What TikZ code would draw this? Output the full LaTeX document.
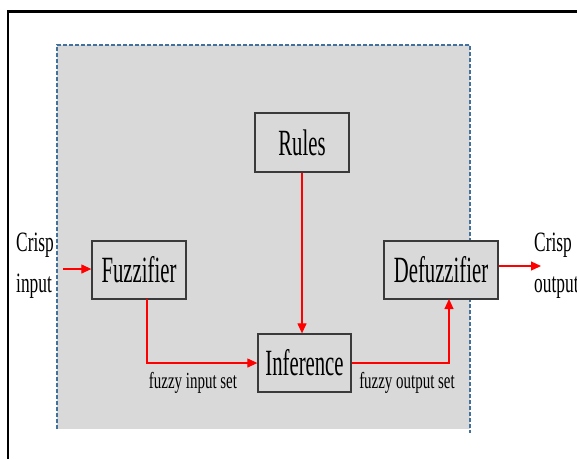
\documentclass[tikz,border=0pt]{standalone}
\usepackage{fontspec}
\setmainfont{Liberation Serif}
\newfontfamily\boxfont[FakeStretch=0.56]{Liberation Serif}
\newfontfamily\lblfont[FakeStretch=0.65]{Liberation Serif}
\newfontfamily\crispfont[FakeStretch=0.62]{Liberation Serif}
\usetikzlibrary{arrows.meta}
\definecolor{bggray}{HTML}{D9D9D9}
\definecolor{dashblue}{HTML}{41719C}
\definecolor{boxline}{HTML}{3A3A3A}
\definecolor{arrred}{HTML}{FF0000}
\tikzset{
  blockbox/.style={draw=boxline, line width=1.3pt, fill=bggray, inner sep=0pt, font=\boxfont\fontsize{37}{42}\selectfont},
  flow/.style={draw=arrred, line width=1.2pt, -{Triangle[length=10pt,width=9pt]}},
  setlabel/.style={font=\lblfont\fontsize{23}{26}\selectfont, inner sep=0pt},
  crisplabel/.style={font=\crispfont\fontsize{28}{41}\selectfont, inner sep=0pt, align=left}
}
\begin{document}
\begin{tikzpicture}[x=1pt,y=-1pt]
\useasboundingbox (0,0) rectangle (577,459);
\fill[white] (0,0) rectangle (577,459);
% outer frame
\draw[black, line width=3pt] (8,11) -- (577,11);
\draw[black, line width=2pt] (8,10) -- (8,459);
% gray area
\fill[bggray] (57,45) rectangle (470,429);
\draw[dashblue, line width=1.5pt, dash pattern=on 4pt off 2pt] (57,429) -- (57,45) -- (470,45) -- (470,433);
% blocks
\node[blockbox, minimum width=94pt, minimum height=59pt] (rules) at (302,142.5) {Rules};
\node[blockbox, minimum width=94pt, minimum height=58pt] (fuzz) at (139,270) {Fuzzifier};
\node[blockbox, minimum width=114pt, minimum height=58pt] (defuzz) at (441,270) {Defuzzifier};
\node[blockbox, minimum width=93pt, minimum height=58pt] (inf) at (304.5,363) {Inference};
% labels
\node[crisplabel, anchor=west] (cin) at (16,266) {Crisp\\input};
\node[crisplabel, anchor=west] (cout) at (534,266) {Crisp\\output};
\node[setlabel] (fis) at (193,383) {fuzzy input set};
\node[setlabel] (fos) at (407,383) {fuzzy output set};
% connectors
\coordinate (inStart) at (63,269);
\coordinate (outEnd) at (541,266);
\coordinate (fuzzDown) at (147,299);
\coordinate (defUp) at (449,299);
\draw[flow] (inStart) -- (fuzz.west |- inStart);
\draw[flow] (defuzz.east |- outEnd) -- (outEnd);
\draw[flow] (fuzzDown) |- (inf.west);
\draw[flow] (inf.east) -| (defUp);
\draw[flow] (rules.south) -- (rules.south |- inf.north);
\end{tikzpicture}
\end{document}
